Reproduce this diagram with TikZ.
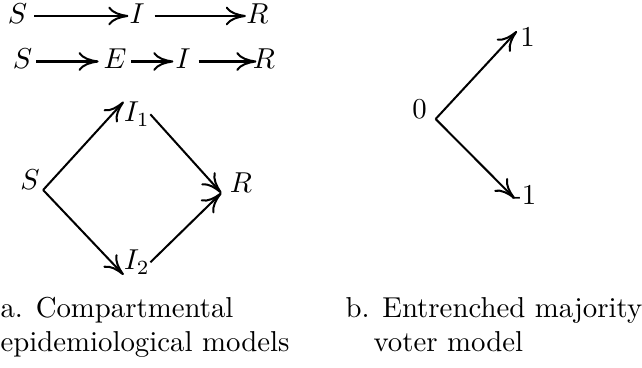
\documentclass[tikz,border=0pt]{standalone}
\usepackage{tikz}
\usetikzlibrary{arrows.meta}

\begin{document}
\begin{tikzpicture}[
    x=0.3472pt, y=-0.3472pt,
    st/.style={inner sep=0pt, text height=7pt, text depth=2pt},
    lbl/.style={inner sep=0pt, anchor=base},
    captxt/.style={inner sep=0pt, anchor=base west, align=left},
    flow/.style={-{To[length=7pt, width=6.5pt]}, line width=0.7pt}
]
\useasboundingbox (0,0) rectangle (642,368);

% SIR and SEIR chains
\node[st] (sirS) at (17.5,16) {$S$};
\node[st] (sirI) at (137,16) {$I$};
\node[st] (sirR) at (257.5,16) {$R$};
\draw[flow, shorten <=2.3pt, shorten >=0.2pt] (sirS.east) -- (sirI.west);
\draw[flow, shorten <=3.3pt] (sirI.east) -- (sirR.west);

\node[st] (seirS) at (22.5,61.5) {$S$};
\node[st] (seirE) at (115,61.5) {$E$};
\node[st] (seirI) at (183,61.5) {$I$};
\node[st] (seirR) at (264,61.5) {$R$};
\draw[flow, shorten <=1.25pt, shorten >=1.5pt] (seirS.east) -- (seirE.west);
\draw[flow, shorten <=1.5pt, shorten >=0.55pt] (seirE.east) -- (seirI.west);
\draw[flow, shorten <=2.6pt, shorten >=-1.4pt] (seirI.east) -- (seirR.west);

% two strains
\node[lbl, inner xsep=1pt] (dS) at (30,190) {$S$};
\node[lbl] (dIa) at (137,122) {$I_1$};
\node[lbl] (dIb) at (137,270) {$I_2$};
\node[lbl, inner xsep=2.8pt] (dR) at (241,193) {$R$};
\draw[flow] (dS.base east) -- (dIa.north west);
\draw[flow] (dS.base east) -- (dIb.south west);
\draw[flow] (dIa.east) -- (dR.base west);
\draw[flow] (dIb.east) -- (dR.base west);

% voter model
\node[lbl, inner xsep=2.9pt] (zero) at (419.5,119) {0};
\node[lbl, inner sep=1pt] (plus) at (527.5,47) {1};
\node[lbl] (minus) at (524.2,205) {-1};
\draw[flow] (zero.base east) -- (plus.150);
\draw[flow, shorten >=-1.5pt] (zero.base east) -- (minus.west);

% captions
\node[captxt] (capA) at (0,352) {a. Compartmental\\epidemiological models};
\node[captxt] (capB) at (345,352) {b. Entrenched majority\\\hspace*{9.7pt}voter model};
\end{tikzpicture}
\end{document}
